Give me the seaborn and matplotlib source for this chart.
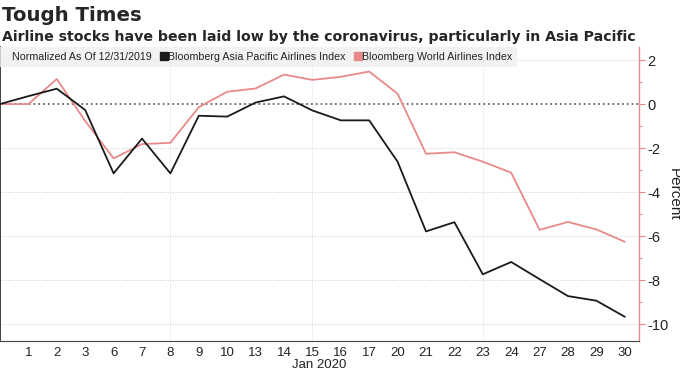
import pandas as pd
import matplotlib.pyplot as plt
import seaborn as sns
from matplotlib.lines import Line2D
from matplotlib.ticker import MultipleLocator

# ------------------------------------------------------------
# DATA
# ------------------------------------------------------------
days = ["31", "1", "2", "3", "6", "7", "8", "9", "10", "13", "14", "15",
        "16", "17", "20", "21", "22", "23", "24", "27", "28", "29", "30"]
asia_pacific = [0.0, 0.36, 0.70, -0.27, -3.15, -1.57, -3.15, -0.53, -0.57, 0.07, 0.35,
                -0.29, -0.74, -0.74, -2.62, -5.79, -5.37, -7.74, -7.18, -7.96, -8.73,
                -8.94, -9.67]
world = [0.0, 0.0, 1.14, -0.77, -2.47, -1.82, -1.76, -0.14, 0.56, 0.71, 1.34,
         1.10, 1.24, 1.48, 0.47, -2.26, -2.19, -2.62, -3.12, -5.72, -5.36,
         -5.70, -6.26]
series_names = ["Bloomberg Asia Pacific Airlines Index", "Bloomberg World Airlines Index"]
colors = ["#1a1a1a", "#e88a8a"]
grid_days = ["8", "15", "23"]

sns.set_style("white")
plt.rcParams["font.family"] = ["Liberation Sans", "DejaVu Sans"]
plt.rcParams["axes.unicode_minus"] = False

n = len(days)
df = pd.DataFrame({
    "pos": list(range(n)) * 2,
    "value": asia_pacific + world,
    "series": [series_names[0]] * n + [series_names[1]] * n,
})

fig = plt.figure(figsize=(6.8, 3.71), dpi=100)
ax = fig.add_axes([0.0, 0.081, 0.9397, 0.792])

# grid
for d in grid_days:
    ax.axvline(days.index(d), color="#dddddd", lw=0.7, ls=":", zorder=0)
for v in [2, -2, -4, -6, -8, -10]:
    ax.axhline(v, color="#cccccc", lw=0.7, ls=":", zorder=0)
ax.axhline(0, color="#666666", lw=1.3, ls=":", zorder=1)

sns.lineplot(data=df, x="pos", y="value", hue="series",
             palette=dict(zip(series_names, colors)),
             hue_order=series_names[::-1], linewidth=1.3, legend=False, ax=ax)

ax.set_xlim(0, 22.5)
ax.set_ylim(-10.77, 2.59)

ax.set_xticks(range(1, n))
ax.set_xticklabels(days[1:], fontsize=9.5, color="#222222")
ax.tick_params(axis="x", length=3, width=0.7, color="#444444", pad=1)
ax.set_xlabel("Jan 2020", fontsize=9.5, color="#222222", labelpad=0)

ax.yaxis.tick_right()
ax.yaxis.set_label_position("right")
ax.yaxis.set_major_locator(MultipleLocator(2))
ax.yaxis.set_minor_locator(MultipleLocator(1))
ax.tick_params(axis="y", which="major", length=4, width=0.8, color=colors[1],
               labelsize=10.5, labelcolor="#222222", pad=2)
ax.tick_params(axis="y", which="minor", length=2.5, width=0.8, color=colors[1])
ax.set_ylabel("Percent", rotation=270, fontsize=11, color="#222222", labelpad=9)

ax.spines["top"].set_visible(False)
ax.spines["left"].set_color("#222222")
ax.spines["left"].set_linewidth(1.2)
ax.spines["bottom"].set_color("#444444")
ax.spines["bottom"].set_linewidth(0.8)
ax.spines["right"].set_color(colors[1])
ax.spines["right"].set_linewidth(1.0)

# legend band
handles = [Line2D([], [], ls="none", marker=None)]
labels = ["Normalized As Of 12/31/2019"]
for c, nm in zip(colors, series_names):
    handles.append(Line2D([], [], ls="none", marker="s", markersize=5.5, color=c))
    labels.append(nm)
leg = ax.legend(handles, labels, ncol=3, loc="upper left", bbox_to_anchor=(0.0, 1.0),
                frameon=True, fontsize=7.7, handlelength=0.5, handletextpad=0.15,
                columnspacing=0.9, borderpad=0.45, borderaxespad=0.0)
leg.get_frame().set_facecolor("#efefef")
leg.get_frame().set_edgecolor("none")
leg.get_frame().set_boxstyle("square", pad=0)
for t in leg.get_texts():
    t.set_color("#222222")

fig.text(0.003, 0.985, "Tough Times", fontsize=14.2, fontweight="bold",
         family=["DejaVu Sans"], va="top", ha="left")
fig.text(0.003, 0.918, "Airline stocks have been laid low by the coronavirus, particularly in Asia Pacific",
         fontsize=10.2, fontweight="bold", family=["DejaVu Sans"],
         va="top", ha="left")

plt.savefig("out.png", dpi=100)
